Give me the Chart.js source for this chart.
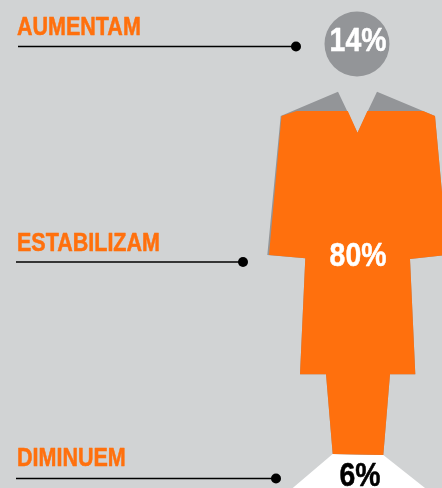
<!DOCTYPE html>
<html>
<head>
<meta charset="utf-8">
<title>Aumentam / Estabilizam / Diminuem</title>
<script src="https://cdn.jsdelivr.net/npm/chart.js@4"></script>
<style>
  html, body { margin: 0; padding: 0; background: #d1d3d4; overflow: hidden; }
  canvas { display: block; }
</style>
</head>
<body>
<canvas id="chart" width="442" height="488"></canvas>
<script>
/* ── Data ────────────────────────────────────────── */
const categories = ["AUMENTAM", "ESTABILIZAM", "DIMINUEM"];
const shares     = [14, 80, 6];

// Figure outline (axis units = 0..442 / 0..488)
const figureX = [338, 357.5, 377, 435, 447.7, 410, 415.3, 390, 383.3, 332.7, 326, 300, 305.3, 267.3, 280.7];
const figureY = [91.7, 132.7, 91.7, 116, 255, 259, 374.3, 374.3, 455, 454, 374.3, 374.3, 258.3, 255, 116];

// Orange band: from the shoulder cut down to the ankles
const bandX = [296.7, 347.8, 357.5, 367.4, 423, 435, 447.7, 410, 415.3, 390, 383.3, 332.7, 326, 300, 305.3, 269, 281.5];
const bandY = [111, 111, 132.7, 111, 111, 116, 255, 259, 374.3, 374.3, 455, 454, 374.3, 374.3, 258.3, 255, 116];

// White foot section
const footX = [332.7, 383.3, 425, 292.7];
const footY = [454, 455, 488, 488];

const headCenter = { x: 357, y: 44 };

// Leader lines
const leaderStartX = [18, 16, 16];
const leaderEndX   = [296, 243, 276];
const leaderY      = [46.5, 262, 478.5];

// Label anchors
const labelX = [17, 17, 17];
const labelY = [35, 251, 466];
const shareX = [358, 358, 360];
const shareY = [51, 266, 486];

/* ── Colours ─────────────────────────────────────── */
const ORANGE = "#ff700d";
const GRAY   = "#939598";
const WHITE  = "#ffffff";
const BLACK  = "#000000";
const shareColors = [WHITE, WHITE, BLACK];

// No condensed face is installed, so the bold one is squeezed horizontally
const TEXT_SQUEEZE = 0.86;

/* ── Helpers ─────────────────────────────────────── */
function toPoints(xs, ys) {
  return xs.map((x, i) => ({ x, y: ys[i] }));
}

function shape(xs, ys, color) {
  return {
    data: toPoints(xs, ys),
    showLine: true,
    fill: "shape",
    backgroundColor: color,
    borderColor: color,
    borderWidth: 0,
    pointRadius: 0,
    tension: 0,
  };
}

function leader(i) {
  return {
    data: [{ x: leaderStartX[i], y: leaderY[i] }, { x: leaderEndX[i], y: leaderY[i] }],
    showLine: true,
    borderColor: BLACK,
    borderWidth: 1.5,
    pointRadius: [0, 5],
    pointBackgroundColor: BLACK,
    pointBorderWidth: 0,
  };
}

function squeezedText(ctx, text, x, y) {
  ctx.save();
  ctx.translate(x, y);
  ctx.scale(TEXT_SQUEEZE, 1);
  ctx.strokeStyle = ctx.fillStyle;   // reference face is heavier than this one
  ctx.lineWidth = 0.5;
  ctx.lineJoin = "round";
  ctx.strokeText(text, 0, 0);
  ctx.fillText(text, 0, 0);
  ctx.restore();
}

/* ── Text drawn through the scales ───────────────── */
const textPlugin = {
  id: "figureText",
  afterDatasetsDraw(chart) {
    const { ctx, scales } = chart;
    ctx.save();
    ctx.textBaseline = "alphabetic";

    ctx.textAlign = "left";
    ctx.fillStyle = ORANGE;
    ctx.font = 'bold 25px "Liberation Sans", sans-serif';
    categories.forEach((c, i) => {
      squeezedText(ctx, c, scales.x.getPixelForValue(labelX[i]), scales.y.getPixelForValue(labelY[i]));
    });

    ctx.textAlign = "center";
    ctx.font = 'bold 33px "Liberation Sans", sans-serif';
    shares.forEach((s, i) => {
      ctx.fillStyle = shareColors[i];
      squeezedText(ctx, s + "%", scales.x.getPixelForValue(shareX[i]), scales.y.getPixelForValue(shareY[i]));
    });
    ctx.restore();
  },
};

/* ── Chart ───────────────────────────────────────── */
new Chart(document.getElementById("chart"), {
  type: "scatter",
  data: {
    datasets: [
      leader(0),
      leader(1),
      leader(2),
      shape(bandX, bandY, ORANGE),
      shape(figureX, figureY, GRAY),
      shape(footX, footY, WHITE),
      {
        data: [headCenter],
        pointRadius: 32.5,
        pointBackgroundColor: GRAY,
        pointBorderWidth: 0,
      },
    ],
  },
  options: {
    responsive: false,
    animation: false,
    layout: { padding: 0, autoPadding: false },
    plugins: { legend: { display: false }, tooltip: { enabled: false } },
    scales: {
      x: { type: "linear", min: 0, max: 442, display: false },
      y: { type: "linear", min: 0, max: 488, reverse: true, display: false },
    },
  },
  plugins: [textPlugin],
});
</script>
</body>
</html>
